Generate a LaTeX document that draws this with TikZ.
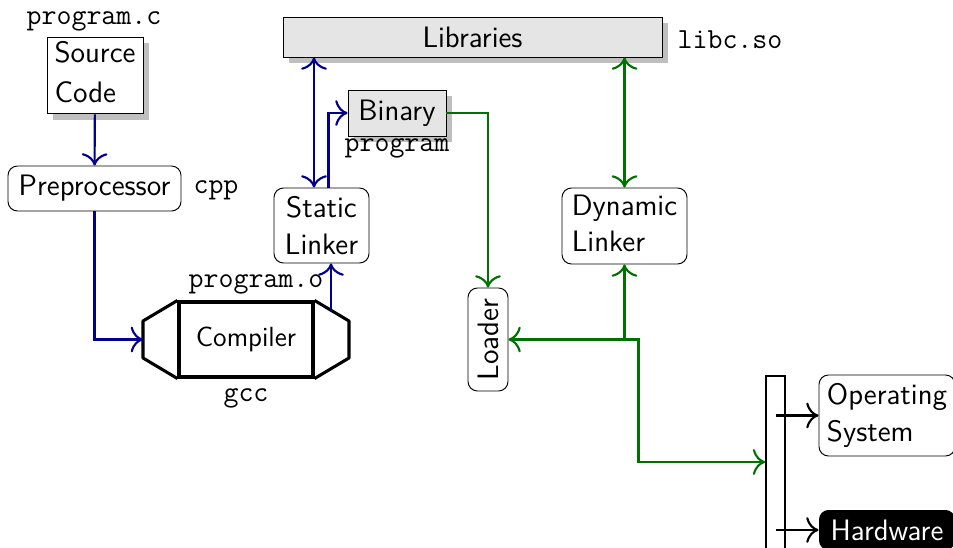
\documentclass[tikz,border=0pt]{standalone}
\usepackage{fontspec}
\usetikzlibrary{shadows,calc,arrows.meta}
\definecolor{linkblue}{RGB}{0,0,140}
\definecolor{linkgreen}{RGB}{0,112,0}
% one drawing unit
\newcommand\pxu{0.4228pt}
\tikzset{
  txt/.style={font=\fontsize{12.5}{15.5}\selectfont\sffamily, inner sep=0pt, align=center},
  code/.style={font=\fontsize{12.3}{14}\selectfont\ttfamily, inner sep=0pt},
  sz/.style 2 args={minimum width={#1*\pxu}, minimum height={#2*\pxu}},
  shade box/.style={drop shadow={shadow xshift=2.5pt, shadow yshift=-2.5pt, opacity=1, fill=black!25}},
  filebox/.style={txt, draw, fill=white, shade box},
  greybox/.style={txt, draw, fill=black!10, shade box},
  roundbox/.style={txt, draw, fill=white, rounded corners=4pt},
  blueflow/.style={linkblue, line width=0.9pt},
  greenflow/.style={linkgreen, line width=0.9pt},
  blackflow/.style={black, line width=0.9pt},
  >={To[scale=1.45]}
}
\begin{document}
\begin{tikzpicture}[x=\pxu, y=-\pxu]
\useasboundingbox (0,0) rectangle (953,548);
\clip (0,0) rectangle (953,548);

% files and programs
\node[filebox, sz={96}{75}] (src) at (95,75.5) {\begin{tabular}{@{}l@{}}Source\\[1.5pt]Code\end{tabular}};
\node[code] (srcname) at (94,21) {program.c};

\node[roundbox, sz={173}{45}] (pre) at (94.5,188.5) {Preprocessor};
\node[code] (prename) at (216,190) {cpp};

\node[greybox, sz={379}{40}] (lib) at (472.5,37) {Libraries};
\node[code] (libname) at (730,40) {libc.so};

\node[greybox, sz={98}{46}] (bin) at (397,113) {Binary};
\node[code] (binname) at (397,148) {program};

\node[roundbox, sz={95}{75}] (sl) at (321.5,225.5) {Static\\Linker};
\node[roundbox, sz={125}{76}] (dl) at (624.5,226) {\begin{tabular}{@{}l@{}}Dynamic\\Linker\end{tabular}};

\node[roundbox, sz={103}{40}, rotate=90] (loader) at (488,339.5) {Loader};

% compiler: body with bevelled ends
\node[txt, font=\fontsize{11.7}{13}\selectfont\sffamily, draw, line width=1.3pt, sz={134}{75}] (comp) at (246,339.5) {Compiler};
\draw[line width=1.3pt, line join=round] (comp.north west) -- (143,321) -- (143,358) -- (comp.south west);
\draw[line width=1.3pt, line join=round] (comp.north east) -- (349,321) -- (349,358) -- (comp.south east);
\coordinate (compin) at (143,339.5);
\coordinate (compout) at (331,311.5);
\node[code] (compname) at (256,284) {program.o};
\node[code] (gccname) at (246,398) {gcc};

% system side
\node[draw, line width=0.7pt, sz={19}{190}, inner sep=0pt] (bar) at (775.5,471) {};
\node[roundbox, sz={136}{81}] (os) at (887,415.5) {\begin{tabular}{@{}l@{}}Operating\\System\end{tabular}};
\node[txt, fill=black, text=white, rounded corners=4pt, sz={136}{40}] (hw) at (887,530) {Hardware};

% build chain
\draw[blueflow, ->] (src) -- (pre);
\draw[blueflow, ->] (pre.south) |- (compin);
\draw[blueflow, ->] (compout) -- (compout |- sl.south);
\coordinate (slleft) at ($(sl.north)+(-7.5,0)$);
\coordinate (slright) at ($(sl.north)+(7,0)$);
\draw[blueflow, <->] (slleft |- lib.south) -- (slleft);
\draw[blueflow, ->] (slright) |- (bin.west);

% loading and dynamic linking
\draw[greenflow, ->] (bin.east) -| (loader.east);
\draw[greenflow, <->] (lib.south -| dl.north) -- (dl.north);
\coordinate (junction) at (dl.south |- loader.south);
\draw[greenflow, ->] (junction) -- (loader.south);
\draw[greenflow, ->] (junction) -- (dl.south);
\coordinate (busin) at ($(bar.west)+(0,-9)$);
\draw[greenflow, ->] (junction) -- ++(14,0) |- (busin);

% system calls
\draw[blackflow, ->] (bar.center |- os.west) -- (os.west);
\draw[blackflow, ->] (bar.center |- hw.west) -- (hw.west);
\end{tikzpicture}
\end{document}
